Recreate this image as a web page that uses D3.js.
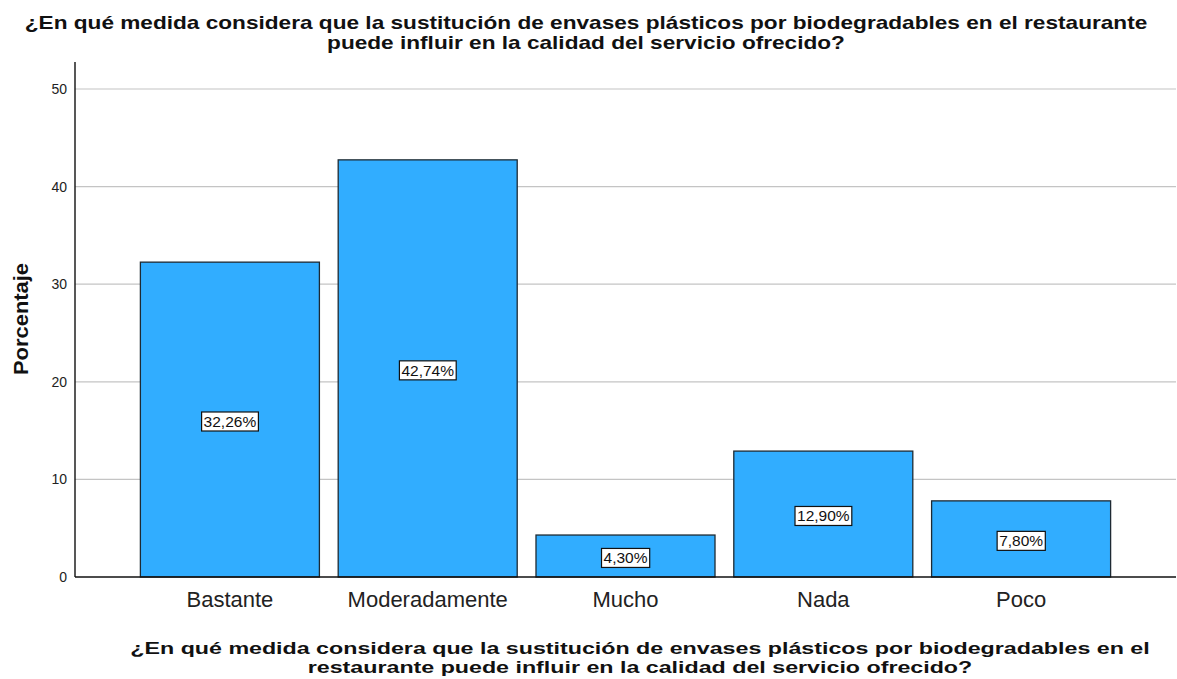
<!DOCTYPE html>
<html>
<head>
<meta charset="utf-8">
<script src="https://cdn.jsdelivr.net/npm/d3@7"></script>
<style>
  html, body { margin: 0; padding: 0; background: #fff; }
  svg { display: block; font-family: "Liberation Sans", Arial, sans-serif; }
</style>
</head>
<body>
<svg id="chart" width="1177" height="679"></svg>
<script>
// Response categories and their percentage of respondents
const categories = ["Bastante", "Moderadamente", "Mucho", "Nada", "Poco"];
const percentages = [32.26, 42.74, 4.30, 12.90, 7.80];
const yTicks = [0, 10, 20, 30, 40, 50];
const titleLines = [
  "¿En qué medida considera que la sustitución de envases plásticos por biodegradables en el restaurante",
  "puede influir en la calidad del servicio ofrecido?"
];
const xTitleLines = [
  "¿En qué medida considera que la sustitución de envases plásticos por biodegradables en el",
  "restaurante puede influir en la calidad del servicio ofrecido?"
];
const yTitle = "Porcentaje";

const svg = d3.select("#chart");
const plot = { left: 75, right: 1176, top: 62, bottom: 577 };

const y = d3.scaleLinear().domain([0, 50]).range([plot.bottom, 89]);
const x = d3.scaleBand()
  .domain(categories)
  .range([130.5, 1120.5])
  .paddingInner(0.095)
  .paddingOuter(0.05);

// Horizontal gridlines
svg.append("g")
  .selectAll("line")
  .data(yTicks.filter(t => t > 0))
  .join("line")
  .attr("x1", plot.left).attr("x2", plot.right)
  .attr("y1", d => y(d)).attr("y2", d => y(d))
  .attr("stroke", "#c4c4c4").attr("stroke-width", 1.2);

// Bars
svg.append("g")
  .selectAll("rect")
  .data(categories.map((c, i) => ({ c, v: percentages[i] })))
  .join("rect")
  .attr("x", d => x(d.c))
  .attr("y", d => y(d.v))
  .attr("width", x.bandwidth())
  .attr("height", d => y(0) - y(d.v))
  .attr("fill", "#31adff")
  .attr("stroke", "#1e2a33")
  .attr("stroke-width", 1.3);

// Y axis
const yAxis = svg.append("g")
  .attr("transform", `translate(${plot.left},0)`)
  .call(d3.axisLeft(y).tickValues(yTicks).tickSize(0).tickPadding(8).tickFormat(d3.format("d")));
yAxis.select(".domain").remove();
yAxis.selectAll("text").attr("font-size", 14).attr("fill", "#222").attr("font-family", "Liberation Sans, Arial, sans-serif");
svg.append("line")
  .attr("x1", plot.left).attr("x2", plot.left)
  .attr("y1", plot.top).attr("y2", plot.bottom)
  .attr("stroke", "#111").attr("stroke-width", 1.4);

// X axis
const xAxis = svg.append("g")
  .attr("transform", `translate(0,${plot.bottom})`)
  .call(d3.axisBottom(x).tickSize(0).tickPadding(14));
xAxis.select(".domain").remove();
xAxis.selectAll("text").attr("font-size", 22).attr("fill", "#222").attr("font-family", "Liberation Sans, Arial, sans-serif");
svg.append("line")
  .attr("x1", plot.left).attr("x2", plot.right)
  .attr("y1", plot.bottom).attr("y2", plot.bottom)
  .attr("stroke", "#111").attr("stroke-width", 1.4);

// Value labels in boxes at mid-height of each bar
const fmt = v => d3.format(".2f")(v).replace(".", ",") + "%";
const labels = svg.append("g")
  .selectAll("g")
  .data(categories.map((c, i) => ({ c, v: percentages[i] })))
  .join("g")
  .attr("transform", d => `translate(${x(d.c) + x.bandwidth() / 2},${(y(d.v) + y(0)) / 2 + 2})`);
labels.append("text")
  .attr("text-anchor", "middle")
  .attr("dy", "0.35em")
  .attr("font-size", 15.5)
  .attr("fill", "#111")
  .text(d => fmt(d.v));
labels.each(function () {
  const g = d3.select(this);
  const bb = g.select("text").node().getBBox();
  g.insert("rect", "text")
    .attr("x", bb.x - 2).attr("y", bb.y - 1)
    .attr("width", bb.width + 4).attr("height", bb.height + 2)
    .attr("fill", "#fff").attr("stroke", "#111").attr("stroke-width", 1.2);
});

// Multi-line bold heading, stretched horizontally so its first line spans `width`
function heading(lines, cx, y0, lineGap, size, width) {
  const t = svg.append("text")
    .attr("text-anchor", "middle")
    .attr("font-size", size).attr("font-weight", "bold").attr("fill", "#111");
  t.selectAll("tspan")
    .data(lines)
    .join("tspan")
    .attr("x", 0).attr("y", (d, i) => y0 + i * lineGap)
    .text(d => d);
  const natural = t.select("tspan").node().getComputedTextLength();
  t.attr("transform", `translate(${cx},0) scale(${width / natural},1)`);
}

heading(titleLines, 586, 29, 20.5, 18, 1123);
heading(xTitleLines, 640, 654, 19.5, 17.3, 1019);

// Y axis title
const yt = svg.append("text")
  .attr("text-anchor", "middle")
  .attr("font-size", 20).attr("font-weight", "bold").attr("fill", "#111")
  .text(yTitle);
const ytLen = yt.node().getComputedTextLength();
yt.attr("transform", `translate(28,319) rotate(-90) scale(${112 / ytLen},1)`);
</script>
</body>
</html>
